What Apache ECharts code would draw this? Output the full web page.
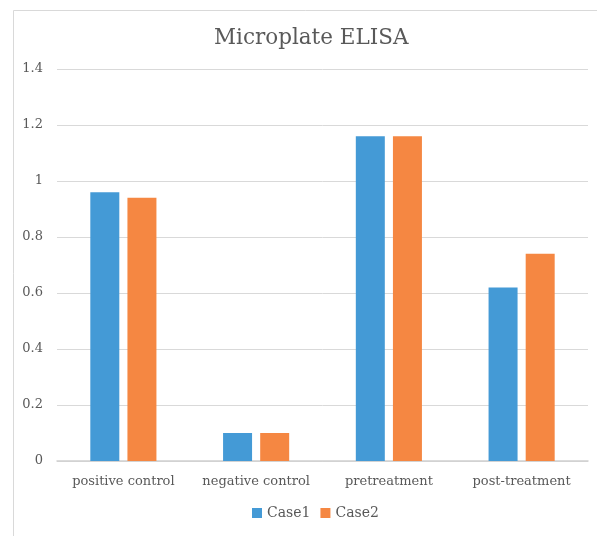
<!DOCTYPE html>
<html>
<head>
<meta charset="utf-8">
<script src="https://cdn.jsdelivr.net/npm/echarts@6/dist/echarts.min.js"></script>
<style>
html,body{margin:0;padding:0;background:#fff;}
#c{width:597px;height:536px;}
</style>
</head>
<body>
<div id="c"></div>
<script>
const categories = ['positive control', 'negative control', 'pretreatment', 'post-treatment'];
const case1 = [0.96, 0.10, 1.16, 0.62];
const case2 = [0.94, 0.10, 1.16, 0.74];
const seriesNames = ['Case1', 'Case2'];
const yTicks = { min: 0, max: 1.4, interval: 0.2 };

const font = '"DejaVu Serif", "Liberation Serif", serif';
const chart = echarts.init(document.getElementById('c'));
chart.setOption({
  animation: false,
  backgroundColor: '#fff',
  textStyle: { fontFamily: font },
  graphic: [{
    type: 'rect', left: 11, top: 8,
    shape: { width: 620, height: 560 },
    style: { fill: 'none', stroke: '#d9d9d9', lineWidth: 1 }
  }],
  title: {
    text: 'Microplate ELISA', left: 209, top: 22,
    textStyle: { fontFamily: font, fontSize: 21.5, fontWeight: 'normal', color: '#595959' }
  },
  legend: {
    bottom: 11, left: 247, itemWidth: 10, itemHeight: 10, itemGap: 10,
    icon: 'rect',
    textStyle: { fontFamily: font, fontSize: 14, color: '#595959' },
    data: seriesNames
  },
  grid: { left: 57, right: 9, top: 69, bottom: 75 },
  xAxis: {
    type: 'category', data: categories,
    axisLine: { lineStyle: { color: '#d0d0d0', width: 1.5 } },
    axisTick: { show: false },
    axisLabel: { fontFamily: font, fontSize: 13, color: '#595959', margin: 14, interval: 0, hideOverlap: false }
  },
  yAxis: {
    type: 'value', min: yTicks.min, max: yTicks.max, interval: yTicks.interval,
    axisLine: { show: false }, axisTick: { show: false },
    axisLabel: { fontFamily: font, fontSize: 13, color: '#595959', margin: 14,
      formatter: v => String(Math.round(v * 10) / 10) },
    splitLine: { lineStyle: { color: '#d9d9d9', width: 1 } }
  },
  series: [
    { name: seriesNames[0], type: 'bar', data: case1, barWidth: 29, barGap: '28%',
      itemStyle: { color: '#449ad6' } },
    { name: seriesNames[1], type: 'bar', data: case2, barWidth: 29,
      itemStyle: { color: '#f58742' } }
  ]
});
</script>
</body>
</html>
